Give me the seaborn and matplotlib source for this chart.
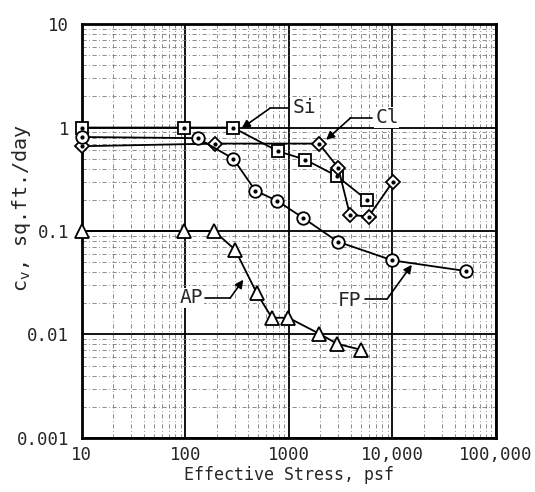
import matplotlib

matplotlib.use("Agg")
import matplotlib.pyplot as plt
import seaborn as sns
from matplotlib.ticker import FixedLocator, LogLocator, NullFormatter

# effective stress (psf) vs coefficient of consolidation (sq.ft./day)
si_stress = [10, 97, 288, 787, 1435, 2900, 5660]
si_cv = [1.0, 1.0, 1.0, 0.59, 0.49, 0.34, 0.20]

cl_stress = [10, 193, 1950, 2990, 3890, 5900, 10100]
cl_cv = [0.66, 0.70, 0.70, 0.41, 0.143, 0.138, 0.30]

fp_stress = [10, 131, 290, 475, 775, 1370, 2950, 10000, 51400]
fp_cv = [0.81, 0.79, 0.50, 0.245, 0.195, 0.134, 0.079, 0.052, 0.041]

ap_stress = [10, 96, 189, 302, 490, 684, 989, 1950, 2940, 4990]
ap_cv = [0.1, 0.1, 0.1, 0.066, 0.025, 0.0145, 0.0145, 0.0102, 0.0081, 0.0071]

x_ticks = [10, 100, 1000, 10000, 100000]
x_tick_labels = ["10", "100", "1000", "10,000", "100,000"]
y_ticks = [0.001, 0.01, 0.1, 1, 10]
y_tick_labels = ["0.001", "0.01", "0.1", "1", "10"]

# label, text position, leader start, leader corner, arrow tip
callouts = [
    ("Si", (1090, 1.58), (982, 1.54), (658, 1.54), (350, 0.985)),
    ("Cl", (6820, 1.25), (6340, 1.23), (3910, 1.23), (2290, 0.76)),
    ("FP", (5000, 0.0212), (5460, 0.0219), (8850, 0.0219), (15400, 0.0471)),
    ("AP", (150, 0.0226), (155, 0.0224), (270, 0.0224), (363, 0.0338)),
]
callout_ha = {"Si": "left", "Cl": "left", "FP": "right", "AP": "right"}

sns.set_style("white")
plt.rcParams["font.family"] = ["DejaVu Sans Mono", "DejaVu Sans"]
plt.rcParams["mathtext.fontset"] = "dejavusans"

fig = plt.figure(figsize=(5.35, 4.92), dpi=100)
ax = fig.add_axes([0.153, 0.110, 0.774, 0.841])

series = [
    (si_stress, si_cv, "s", 8.5),
    (cl_stress, cl_cv, "D", 7.5),
    (fp_stress, fp_cv, "o", 9),
    (ap_stress, ap_cv, "^", 9.5),
]
for xs, ys, mk, ms in series:
    sns.lineplot(x=xs, y=ys, ax=ax, color="black", linewidth=1.3, estimator=None,
                 sort=False, marker=mk, markersize=ms, markerfacecolor="white",
                 markeredgecolor="black", markeredgewidth=1.3, zorder=3,
                 clip_on=False)
    # centre dots of the hand-plotted symbols
    if mk != "^":
        ax.plot(xs, ys, linestyle="none", marker="o", markersize=2,
                color="black", zorder=4, clip_on=False)

ax.set_xscale("log")
ax.set_yscale("log")
ax.set_xlim(10, 100000)
ax.set_ylim(0.001, 10)

ax.xaxis.set_major_locator(FixedLocator(x_ticks))
ax.set_xticklabels(x_tick_labels)
ax.yaxis.set_major_locator(FixedLocator(y_ticks))
ax.set_yticklabels(y_tick_labels)
ax.xaxis.set_minor_locator(LogLocator(base=10, subs=range(2, 10)))
ax.yaxis.set_minor_locator(LogLocator(base=10, subs=range(2, 10)))
ax.xaxis.set_minor_formatter(NullFormatter())
ax.yaxis.set_minor_formatter(NullFormatter())
ax.tick_params(which="both", length=0, labelsize=12.5)
ax.tick_params(axis="x", pad=6)
ax.tick_params(axis="y", pad=9)

ax.grid(which="major", color="black", linewidth=1.3, linestyle="-")
ax.grid(which="minor", color="#777777", linewidth=0.6, linestyle=(0, (5, 3, 1, 3)))
ax.set_axisbelow(True)
for sp in ax.spines.values():
    sp.set_linewidth(2)
    sp.set_color("black")

ax.set_xlabel("Effective Stress, psf", fontsize=12, labelpad=1)
ax.set_ylabel("c$_\\mathregular{v}$, sq.ft./day", fontsize=14.5)
ax.yaxis.set_label_coords(-0.118, 0.555)

for name, txt_pos, corner_a, corner_b, tip in callouts:
    ax.text(txt_pos[0], txt_pos[1], name, fontsize=14, ha=callout_ha[name],
            va="center", zorder=6,
            bbox=dict(facecolor="white", edgecolor="none", pad=0.5))
    ax.plot([corner_a[0], corner_b[0]], [corner_a[1], corner_b[1]],
            color="black", linewidth=1.2, zorder=5)
    ax.annotate("", xy=tip, xytext=corner_b,
                arrowprops=dict(arrowstyle="-|>", color="black", linewidth=1.2,
                                mutation_scale=12, shrinkA=0, shrinkB=0),
                zorder=5)

fig.savefig("out.png", dpi=100)
